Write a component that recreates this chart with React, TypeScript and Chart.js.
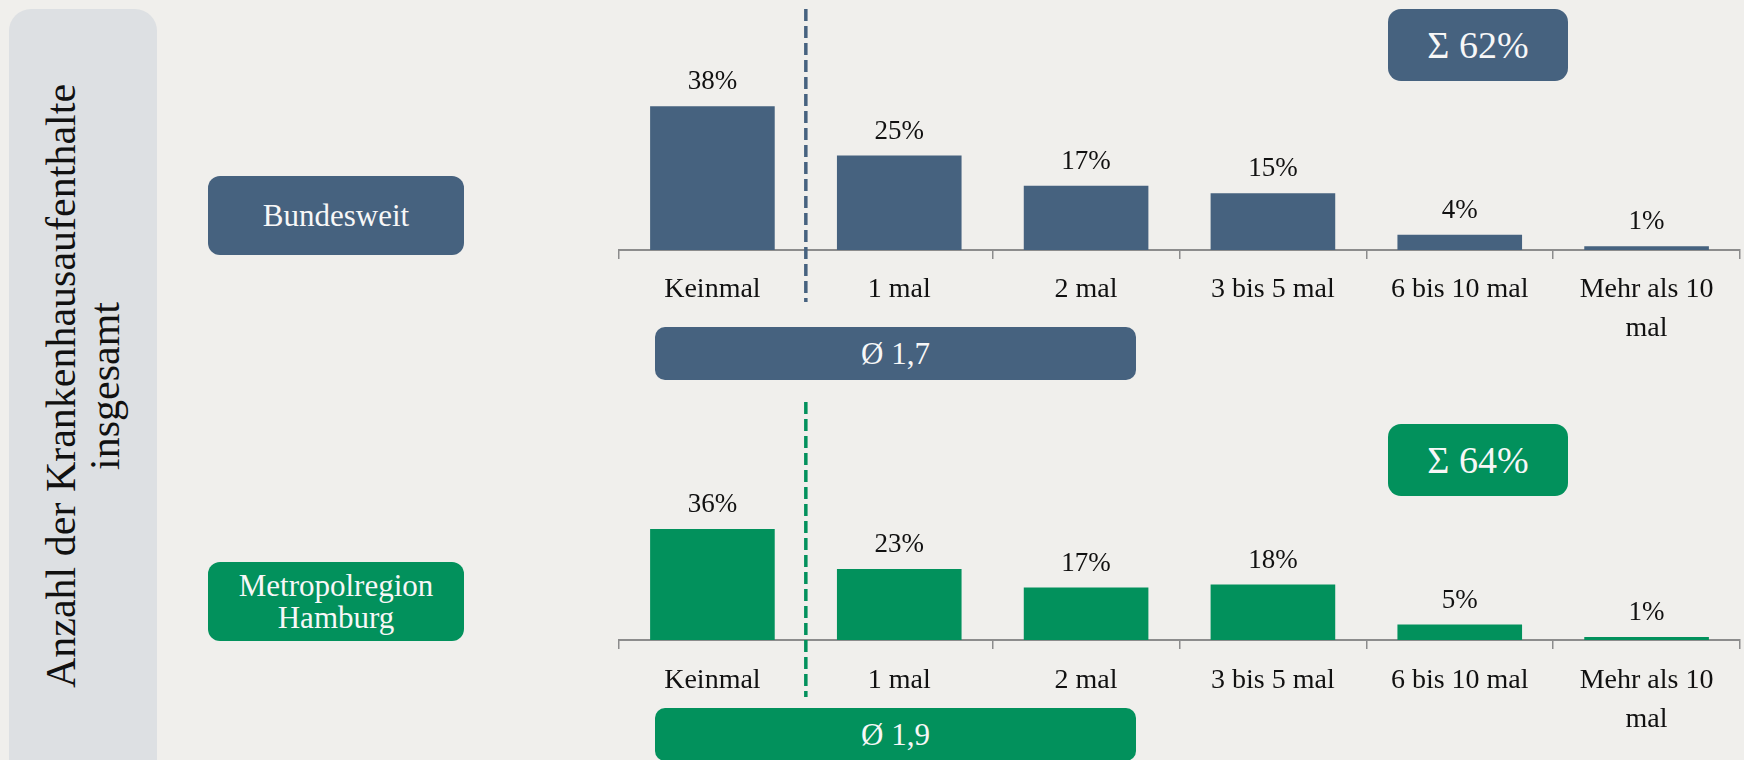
import React, { useEffect, useRef } from "react";
import { Chart, registerables } from "chart.js";

Chart.register(...registerables);

// ---------- data ----------
const categories: (string | string[])[] = [
  "Keinmal",
  "1 mal",
  "2 mal",
  "3 bis 5 mal",
  "6 bis 10 mal",
  ["Mehr als 10", "mal"],
];
const bundesweitValues = [38, 25, 17, 15, 4, 1];
const hamburgValues = [36, 23, 17, 18, 5, 1];
const bundesweitAverage = "1,7";
const hamburgAverage = "1,9";
const groupLabels = ["Bundesweit", "Metropolregion Hamburg"];
const sideTitle = ["Anzahl der Krankenhausaufenthalte", "insgesamt"];

// ---------- styles ----------
const BLUE = "#46627f";
const GREEN = "#02915c";
const BG = "#f0efec";
const PANEL = "#dde0e3";
const AXIS = "#8c8c8c";
const FONT = "'Liberation Serif', 'Times New Roman', serif";

type BarChartProps = {
  values: number[];
  color: string;
  top: number;
  height: number;
  yMax: number;
  padTop: number;
  axisHeight: number;
  tickPad: number;
  dashTop: number;
  dashBottom: number;
};

function BarChart(p: BarChartProps) {
  const ref = useRef<HTMLCanvasElement | null>(null);
  useEffect(() => {
    if (!ref.current) return;
    const labelPlugin = {
      id: "valueLabels",
      afterDatasetsDraw(chart: any) {
        const ctx = chart.ctx;
        const meta = chart.getDatasetMeta(0);
        ctx.save();
        ctx.fillStyle = "#111";
        ctx.font = `27px ${FONT}`;
        ctx.textAlign = "center";
        ctx.textBaseline = "middle";
        meta.data.forEach((bar: any, i: number) => {
          ctx.fillText(`${p.values[i]}%`, bar.x, bar.y - 24);
        });
        ctx.restore();
      },
    };
    const dashPlugin = {
      id: "dashDivider",
      afterDraw(chart: any) {
        const x = chart.scales.x;
        const px = (x.getPixelForTick(0) + x.getPixelForTick(1)) / 2;
        const ctx = chart.ctx;
        ctx.save();
        ctx.strokeStyle = p.color;
        ctx.lineWidth = 3.5;
        ctx.setLineDash([12, 5]);
        ctx.beginPath();
        ctx.moveTo(px, p.dashTop);
        ctx.lineTo(px, p.dashBottom);
        ctx.stroke();
        ctx.restore();
      },
    };
    const chart = new Chart(ref.current, {
      type: "bar",
      data: {
        labels: categories,
        datasets: [
          {
            data: p.values,
            backgroundColor: p.color,
            borderWidth: 0,
            barPercentage: 0.667,
            categoryPercentage: 1,
          },
        ],
      },
      options: {
        animation: false,
        responsive: false,
        maintainAspectRatio: false,
        layout: { padding: { left: 59, right: 4, top: p.padTop, bottom: 0 } },
        plugins: { legend: { display: false }, tooltip: { enabled: false } },
        scales: {
          x: {
            offset: true,
            grid: {
              display: true,
              offset: true,
              drawOnChartArea: false,
              drawTicks: true,
              tickLength: 9,
              color: AXIS,
              lineWidth: 1.5,
            },
            border: { display: true, color: AXIS, width: 2 },
            ticks: {
              color: "#111",
              padding: p.tickPad,
              maxRotation: 0,
              autoSkip: false,
              font: { family: FONT, size: 28, lineHeight: 1.4 },
            },
            afterFit: (axis: any) => {
              axis.height = p.axisHeight;
            },
          },
          y: {
            display: false,
            min: 0,
            max: p.yMax,
          },
        },
      },
      plugins: [labelPlugin, dashPlugin],
    });
    return () => chart.destroy();
  }, []);
  return (
    <canvas
      ref={ref}
      width={1184}
      height={p.height}
      style={{ position: "absolute", left: 560, top: p.top, width: 1184, height: p.height }}
    />
  );
}

const boxBase: React.CSSProperties = {
  position: "absolute",
  color: "#f7f7f7",
  display: "flex",
  alignItems: "center",
  justifyContent: "center",
  textAlign: "center",
  fontFamily: FONT,
  boxSizing: "border-box",
};

function sumExceptFirst(v: number[]) {
  return v.slice(1).reduce((a, b) => a + b, 0);
}

export default function App() {
  return (
    <div
      style={{
        position: "fixed",
        left: 0,
        top: 0,
        width: 1744,
        height: 760,
        background: BG,
        overflow: "hidden",
        fontFamily: FONT,
      }}
    >
      {/* side panel */}
      <div
        style={{
          position: "absolute",
          left: 9,
          top: 9,
          width: 148,
          height: 820,
          background: PANEL,
          borderRadius: 22,
        }}
      />
      <div
        style={{
          position: "absolute",
          left: 83,
          top: 386,
          transform: "translate(-50%, -50%) rotate(-90deg)",
          whiteSpace: "nowrap",
          textAlign: "center",
          fontSize: 42,
          lineHeight: "44px",
          color: "#111",
        }}
      >
        {sideTitle[0]}
        <br />
        {sideTitle[1]}
      </div>

      {/* group labels */}
      <div style={{ ...boxBase, left: 208, top: 176, width: 256, height: 79, background: BLUE, borderRadius: 12, fontSize: 31 }}>
        {groupLabels[0]}
      </div>
      <div
        style={{
          ...boxBase,
          left: 208,
          top: 562,
          width: 256,
          height: 79,
          background: GREEN,
          borderRadius: 12,
          fontSize: 31,
          lineHeight: "32px",
          padding: "0 20px",
        }}
      >
        {groupLabels[1]}
      </div>

      {/* charts */}
      <BarChart
        values={bundesweitValues}
        color={BLUE}
        top={0}
        height={390}
        yMax={60}
        padTop={23}
        axisHeight={140}
        tickPad={11}
        dashTop={9}
        dashBottom={302}
      />
      <BarChart
        values={hamburgValues}
        color={GREEN}
        top={390}
        height={370}
        yMax={60}
        padTop={65}
        axisHeight={120}
        tickPad={12}
        dashTop={12}
        dashBottom={307}
      />

      {/* sum boxes */}
      <div style={{ ...boxBase, left: 1388, top: 9, width: 180, height: 72, background: BLUE, borderRadius: 13, fontSize: 38 }}>
        {`Σ ${sumExceptFirst(bundesweitValues)}%`}
      </div>
      <div style={{ ...boxBase, left: 1388, top: 424, width: 180, height: 72, background: GREEN, borderRadius: 13, fontSize: 38 }}>
        {`Σ ${sumExceptFirst(hamburgValues)}%`}
      </div>

      {/* average boxes */}
      <div style={{ ...boxBase, left: 655, top: 327, width: 481, height: 53, background: BLUE, borderRadius: 10, fontSize: 31 }}>
        {`Ø ${bundesweitAverage}`}
      </div>
      <div style={{ ...boxBase, left: 655, top: 708, width: 481, height: 53, background: GREEN, borderRadius: 10, fontSize: 31 }}>
        {`Ø ${hamburgAverage}`}
      </div>
    </div>
  );
}
